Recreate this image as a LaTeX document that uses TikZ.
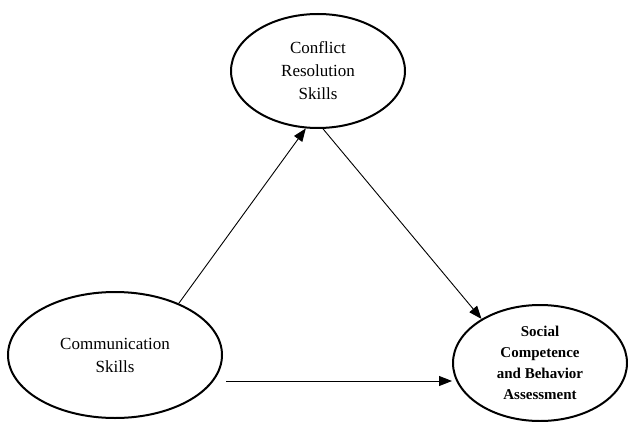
\documentclass[tikz,border=0pt]{standalone}
\usepackage{fontspec}
\setmainfont{Liberation Serif}
\usetikzlibrary{shapes.geometric,arrows.meta}
\begin{document}
\begin{tikzpicture}[x=1pt,y=-1pt,
  oval/.style={draw, ellipse, line width=2pt, inner sep=0pt, align=center, font=\fontsize{17}{23}\selectfont},
  arr/.style={line width=0.9pt, -{Triangle[length=13pt,width=10pt]}}]
\useasboundingbox (0,0) rectangle (628,422);
\node[oval, minimum width=174pt, minimum height=114pt] (crs) at (318,71) {Conflict\\Resolution\\Skills};
\node[oval, minimum width=214pt, minimum height=126pt] (cs) at (115,355) {Communication\\Skills};
\node[oval, minimum width=174pt, minimum height=116pt, font=\bfseries\fontsize{15}{21}\selectfont] (sc) at (540,363) {Social\\Competence\\and Behavior\\Assessment};
\draw[arr] (cs.39.5) -- (crs.258.5);
\draw[arr] (crs.275) -- (sc.143);
\draw[arr] ([xshift=3pt,yshift=-26pt]cs.east) -- ([yshift=-18pt]sc.west);
\end{tikzpicture}
\end{document}
